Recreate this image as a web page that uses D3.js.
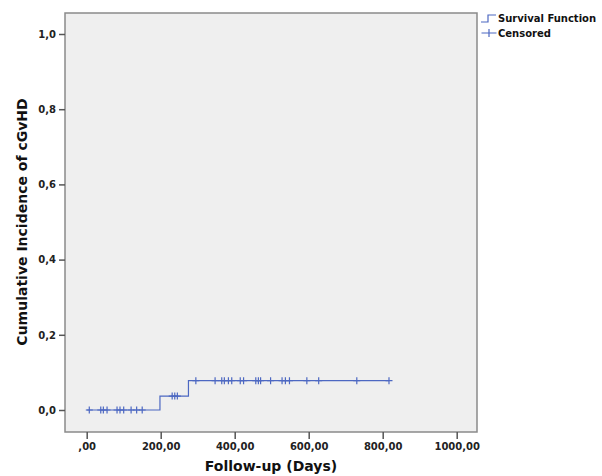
<!DOCTYPE html>
<html>
<head>
<meta charset="utf-8">
<script src="https://cdn.jsdelivr.net/npm/d3@7"></script>
<style>
  body { margin: 0; background: #fff; }
  text { font-family: "DejaVu Sans", sans-serif; }
</style>
</head>
<body>
<svg id="chart" width="602" height="476"></svg>
<script>
// step function: [day, cumulative incidence]
const steps = [[0, 0], [198, 0.037], [275, 0.078], [817, 0.078]];
const censoredDays = [7, 38, 45, 55, 82, 90, 100, 120, 135, 150,
  231, 238, 245,
  295, 347, 365, 372, 383, 392, 415, 424, 457, 464, 470, 497, 528, 537, 548, 595, 627, 730, 817];
const xTicks = [0, 200, 400, 600, 800, 1000];
const xTickLabels = [",00", "200,00", "400,00", "600,00", "800,00", "1000,00"];
const yTicks = [0, 0.2, 0.4, 0.6, 0.8, 1.0];
const yTickLabels = ["0,0", "0,2", "0,4", "0,6", "0,8", "1,0"];
const legendItems = ["Survival Function", "Censored"];

const svg = d3.select("#chart");
const frame = { left: 65, top: 13, right: 477, bottom: 432 };
const lineColor = "#4d68c2";

const x = d3.scaleLinear().domain([0, 1000]).range([86.7, 456.7]);
const y = d3.scaleLinear().domain([0, 1]).range([410, 34]);

// level at a given day
const levelAt = (day) => {
  let v = 0;
  steps.forEach((s) => { if (s[0] <= day) v = s[1]; });
  return v;
};

// plot background
svg.append("rect")
  .attr("x", frame.left)
  .attr("y", frame.top)
  .attr("width", frame.right - frame.left)
  .attr("height", frame.bottom - frame.top)
  .attr("fill", "#efefef")
  .attr("stroke", "#8a8a8a")
  .attr("stroke-width", 1.5);

// y axis
const yAxis = svg.append("g")
  .attr("transform", `translate(${frame.left},0)`)
  .call(d3.axisLeft(y).tickValues(yTicks).tickSize(6).tickPadding(3)
    .tickFormat((d, i) => yTickLabels[i]));
yAxis.select(".domain").remove();
yAxis.selectAll(".tick line").attr("stroke", "#555").attr("stroke-width", 1.5);
yAxis.selectAll(".tick text")
  .attr("fill", "#222")
  .style("font-size", "10px")
  .style("font-weight", "bold");

// x axis
const xAxis = svg.append("g")
  .attr("transform", `translate(0,${frame.bottom})`)
  .call(d3.axisBottom(x).tickValues(xTicks).tickSize(7).tickPadding(4)
    .tickFormat((d, i) => xTickLabels[i]));
xAxis.select(".domain").remove();
xAxis.selectAll(".tick line").attr("stroke", "#555").attr("stroke-width", 1.5);
xAxis.selectAll(".tick text")
  .attr("fill", "#222")
  .style("font-size", "10px")
  .style("font-weight", "bold");

// axis titles
svg.append("text")
  .attr("x", 271)
  .attr("y", 471)
  .attr("text-anchor", "middle")
  .style("font-size", "14px")
  .style("font-weight", "bold")
  .attr("fill", "#111")
  .text("Follow-up (Days)");

svg.append("text")
  .attr("transform", "translate(27,222) rotate(-90)")
  .attr("text-anchor", "middle")
  .style("font-size", "14px")
  .style("font-weight", "bold")
  .attr("fill", "#111")
  .text("Cumulative Incidence of cGvHD");

// step line
const line = d3.line()
  .x((d) => x(d[0]))
  .y((d) => y(d[1]))
  .curve(d3.curveStepAfter);

svg.append("path")
  .datum(steps)
  .attr("fill", "none")
  .attr("stroke", lineColor)
  .attr("stroke-width", 1.2)
  .attr("d", line);

// censored marks
const cross = (cx, cy, w, h) => `M${cx - w},${cy}H${cx + w}M${cx},${cy - h}V${cy + h}`;
svg.append("g")
  .selectAll("path")
  .data(censoredDays)
  .enter()
  .append("path")
  .attr("d", (d) => cross(x(d), y(levelAt(d)), 3.5, 3.5))
  .attr("stroke", lineColor)
  .attr("stroke-width", 1.2)
  .attr("fill", "none");

// legend
const legend = svg.append("g").attr("transform", "translate(481,18)");
legend.append("path")
  .attr("d", "M0,4H7V-3H15")
  .attr("stroke", lineColor)
  .attr("fill", "none")
  .attr("stroke-width", 1.2);
legend.append("path")
  .attr("d", cross(8, 15, 7.5, 4))
  .attr("stroke", lineColor)
  .attr("fill", "none")
  .attr("stroke-width", 1.2);
legend.selectAll("text")
  .data(legendItems)
  .enter()
  .append("text")
  .attr("x", 17)
  .attr("y", (d, i) => 4 + i * 15)
  .attr("fill", "#111")
  .style("font-size", "10px")
  .style("font-weight", "bold")
  .text((d) => d);
</script>
</body>
</html>
